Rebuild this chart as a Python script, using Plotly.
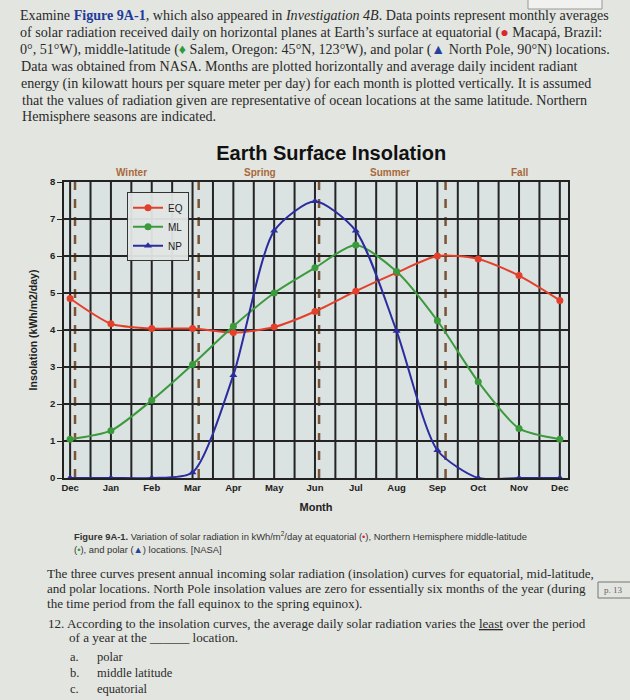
import plotly.graph_objects as go

# ---- data ----
month_labels = ["Dec", "Jan", "Feb", "Mar", "Apr", "May", "Jun", "Jul", "Aug", "Sep", "Oct", "Nov", "Dec"]
month_pos = list(range(13))
eq = [4.85, 4.17, 4.04, 4.04, 3.93, 4.08, 4.5, 5.05, 5.55, 6.0, 5.92, 5.47, 4.8]
ml = [1.05, 1.28, 2.1, 3.07, 4.1, 5.0, 5.68, 6.3, 5.58, 4.25, 2.6, 1.34, 1.05]
np_ = [0.0, 0.0, 0.0, 0.15, 2.78, 6.68, 7.48, 6.68, 3.97, 0.75, 0.0, 0.0, 0.0]
series_names = ["EQ", "ML", "NP"]
seasons = ["Winter", "Spring", "Summer", "Fall"]
season_pos = [1.5, 4.65, 7.85, 11.0]
solstice_equinox_pos = [0.12, 3.15, 6.1, 9.2]
y_ticks = [0, 1, 2, 3, 4, 5, 6, 7, 8]
# vertical grid every half month
grid_pos = [i / 2 for i in range(25)]

W, H = 630, 700
L, R, T, B = 64, 62, 182, 222
PW, PH = W - L - R, H - T - B
XR = [-0.15, 12.2]
YR = [0, 8]

def px(x):
    return (x - L) / PW

def py(y):
    return (H - B - y) / PH

colors = {"EQ": "#e3402b", "ML": "#3a9a3c", "NP": "#2b2c9e"}
symbols = {"EQ": "circle", "ML": "circle", "NP": "triangle-up"}

fig = go.Figure()
for name, vals in zip(series_names, [eq, ml, np_]):
    fig.add_trace(go.Scatter(
        x=month_pos, y=vals, name=name, mode="lines+markers",
        line=dict(color=colors[name], width=2, shape="spline", smoothing=0.7),
        marker=dict(symbol=symbols[name], size=7, color=colors[name]),
    ))

shapes = []
# vertical half-month grid lines (below the data)
for g in grid_pos:
    shapes.append(dict(type="line", xref="x", yref="paper", x0=g, x1=g, y0=0, y1=1,
                       layer="below", line=dict(color="#242424", width=2)))
for xv in solstice_equinox_pos:
    shapes.append(dict(type="line", xref="x", yref="y", x0=xv, x1=xv, y0=YR[0], y1=YR[1],
                       layer="below", line=dict(color="#7a5435", width=2.5, dash="dash")))
# page decorations
shapes.append(dict(type="rect", xref="paper", yref="paper",
                   x0=px(598), x1=px(640), y0=py(598), y1=py(582),
                   line=dict(color="#777", width=1), fillcolor="rgba(0,0,0,0)"))
shapes.append(dict(type="rect", xref="paper", yref="paper",
                   x0=px(528), x1=px(602), y0=py(9), y1=py(-5),
                   line=dict(color="#999", width=1), fillcolor="rgba(250,250,250,0.6)"))

serif = "Liberation Serif, Times New Roman, serif"
sans = "Liberation Sans, Arial, sans-serif"
ann = []

def txt(x, y, s, size, family=serif, color="#2a2a2a", xanchor="left"):
    ann.append(dict(xref="paper", yref="paper", x=px(x), y=py(y), text=s,
                    showarrow=False, xanchor=xanchor, yanchor="middle",
                    font=dict(family=family, size=size, color=color)))

red = "<span style='color:#d8282a'>●</span>"
grn = "<span style='color:#2e9a3a'>♦</span>"
blu = "<span style='color:#2340a0'>▲</span>"

top_lines = [
    "Examine <b><span style='color:#233c9a'>Figure 9A-1</span></b>, which also appeared in <i>Investigation 4B</i>. Data points represent monthly averages",
    "of solar radiation received daily on horizontal planes at Earth’s surface at equatorial (" + red + " Macapá, Brazil:",
    "0°, 51°W), middle-latitude (" + grn + " Salem, Oregon: 45°N, 123°W), and polar (" + blu + " North Pole, 90°N) locations.",
    "Data was obtained from NASA. Months are plotted horizontally and average daily incident radiant",
    "energy (in kilowatt hours per square meter per day) for each month is plotted vertically. It is assumed",
    "that the values of radiation given are representative of ocean locations at the same latitude. Northern",
    "Hemisphere seasons are indicated.",
]
top_y = [15, 32, 49, 66, 83, 100, 116]
top_x = [18, 18, 18, 19, 19, 20, 20]
for s, x, y in zip(top_lines, top_x, top_y):
    txt(x, y, s, 14.1)

txt(72, 536, "<b>Figure 9A-1.</b> Variation of solar radiation in kWh/m<sup>2</sup>/day at equatorial ("
    + "<span style='color:#d8282a'>•</span>), Northern Hemisphere middle-latitude", 9.4, sans, "#333")
txt(72, 549, "(<span style='color:#2e9a3a'>•</span>), and polar (" + "<span style='color:#2340a0'>▲</span>) locations. [NASA]",
    9.4, sans, "#333")

para = [
    ("The three curves present annual incoming solar radiation (insolation) curves for equatorial, mid-latitude,", 45, 573),
    ("and polar locations. North Pole insolation values are zero for essentially six months of the year (during", 45, 588),
    ("the time period from the fall equinox to the spring equinox).", 45, 603),
    ("12. According to the insolation curves, the average daily solar radiation varies the <u>least</u> over the period", 46, 623),
    ("of a year at the ______ location.", 67, 637),
]
for s, x, y in para:
    txt(x, y, s, 13.1)
for lab, s, y in [("a.", "polar", 657), ("b.", "middle latitude", 673), ("c.", "equatorial", 689)]:
    txt(68, y, lab, 12.5)
    txt(95, y, s, 12.5)
txt(602, 590, "p. 13", 9, serif, "#666")

for s, xv in zip(seasons, season_pos):
    ann.append(dict(xref="x", yref="paper", x=xv, y=py(173), text="<b>" + s + "</b>",
                    showarrow=False, xanchor="center", yanchor="middle",
                    font=dict(family=sans, size=10, color="#a8683a")))

fig.update_layout(
    width=W, height=H,
    margin=dict(l=L, r=R, t=T, b=B),
    paper_bgcolor="#e3e5e1",
    plot_bgcolor="#dbe2e2",
    title=dict(text="<b>Earth Surface Insolation</b>", x=px(329), xanchor="center",
               y=1 - 153 / H, yanchor="middle",
               font=dict(family=sans, size=20, color="#111")),
    showlegend=True,
    legend=dict(x=0.125, y=0.965, xanchor="left", yanchor="top",
                bgcolor="rgba(225,230,228,0.95)", bordercolor="#333", borderwidth=1,
                font=dict(family=sans, size=10, color="#222"),
                itemwidth=30, tracegroupgap=0),
    shapes=shapes,
    annotations=ann,
    xaxis=dict(
        range=XR, tickmode="array", tickvals=month_pos,
        ticktext=["<b>" + m + "</b>" for m in month_labels],
        tickfont=dict(family=sans, size=9.5, color="#222"), ticks="",
        showgrid=False, zeroline=False,
        showline=True, linecolor="#222", linewidth=1.5, mirror=True,
        title=dict(text="<b>Month</b>", font=dict(family=sans, size=11, color="#222"), standoff=11),
    ),
    yaxis=dict(
        range=YR, tickmode="array", tickvals=y_ticks,
        ticktext=["<b>%d</b>" % v for v in y_ticks],
        tickfont=dict(family=sans, size=9.5, color="#222"),
        showgrid=True, gridcolor="#242424", gridwidth=1.7, zeroline=False,
        ticks="outside", ticklen=5, tickcolor="#222",
        showline=True, linecolor="#222", linewidth=1.5, mirror=True,
        title=dict(text="<b>Insolation (kWh/m2/day)</b>", font=dict(family=sans, size=10.5, color="#222"), standoff=10),
    ),
)

fig.write_html("out.html", config={"displayModeBar": False},
               post_script="document.body.style.margin='0';")
